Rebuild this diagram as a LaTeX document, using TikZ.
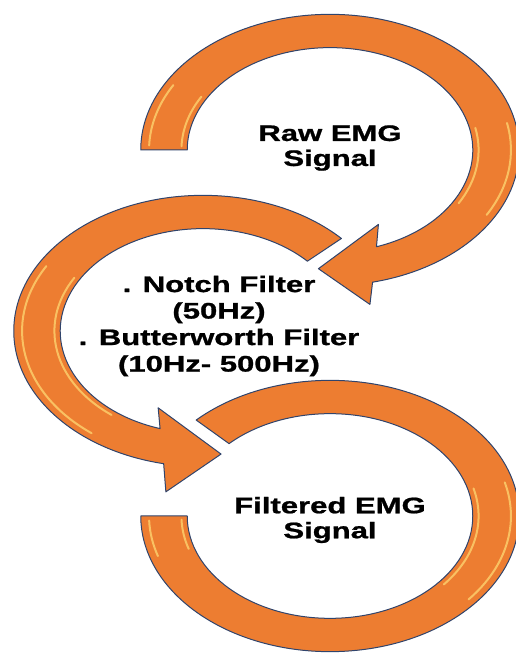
\documentclass[tikz,border=0pt]{standalone}
\usepackage{fontspec}
\setmainfont{Liberation Sans}
\newfontfamily\lblfont{Liberation Sans Bold}[FakeBold=0.9]
\definecolor{ringfill}{RGB}{237,125,49}
\definecolor{ringline}{RGB}{48,68,108}
\definecolor{glintcol}{RGB}{255,222,120}

\begin{document}
\begin{tikzpicture}[x=1pt, y=1pt,
  ring/.style={fill=ringfill, draw=ringline, line width=1pt, line join=round},
  glint/.style={draw=glintcol, line width=2pt, line cap=round, opacity=0.7},
  lbl/.style={black, font=\lblfont\fontsize{22.5}{25}\selectfont, align=center, inner sep=0pt, xscale=1.38}]
\useasboundingbox (0,0) rectangle (516,653);
% top ring
\begin{scope}[shift={(330,503)}, xscale=166, yscale=119]
\draw[ring] (180:0.86) -- (180:1.14) arc[start angle=180, end angle=-77, radius=1.14]
  -- (-79.5:1.32) -- (-94:1.0) -- (-65:0.69) -- (-71:0.86)
  arc[start angle=-71, end angle=180, radius=0.86] -- cycle;
\draw[glint] (150:1.09) arc[start angle=150, end angle=178, radius=1.09];
\draw[glint] (150:0.895) arc[start angle=150, end angle=178, radius=0.895];
\draw[glint] (12:1.09) arc[start angle=12, end angle=-30, radius=1.09];
\draw[glint] (12:0.895) arc[start angle=12, end angle=-30, radius=0.895];
\end{scope}
% middle ring
\begin{scope}[shift={(203,322)}, xscale=166, yscale=119]
\draw[ring] (43:0.86) -- (43:1.14) arc[start angle=43, end angle=258, radius=1.14]
  -- (260.6:1.37) -- (276:1.04) -- (247.3:0.70) -- (252.5:0.86)
  arc[start angle=252.5, end angle=43, radius=0.86] -- cycle;
\draw[glint] (150:1.09) arc[start angle=150, end angle=232, radius=1.09];
\draw[glint] (150:0.895) arc[start angle=150, end angle=232, radius=0.895];
\end{scope}
% bottom ring
\begin{scope}[shift={(330,137)}, xscale=166, yscale=119]
\draw[ring] (135:0.86) -- (135:1.14) arc[start angle=135, end angle=-180, radius=1.14]
  -- (180:0.86) arc[start angle=-180, end angle=135, radius=0.86] -- cycle;
\draw[glint] (15:1.09) arc[start angle=15, end angle=-40, radius=1.09];
\draw[glint] (15:0.895) arc[start angle=15, end angle=-40, radius=0.895];
\draw[glint] (182:1.09) arc[start angle=182, end angle=198, radius=1.09];
\draw[glint] (182:0.895) arc[start angle=182, end angle=198, radius=0.895];
\end{scope}
\node[lbl] (raw) at (330,505) {Raw EMG\\Signal};
\node[lbl, font=\lblfont\fontsize{22.5}{26.5}\selectfont] (filt) at (219,327)
  {. Notch Filter\\(50Hz)\\. Butterworth Filter\\(10Hz- 500Hz)};
\node[lbl] (out) at (330,133) {Filtered EMG\\Signal};
\end{tikzpicture}
\end{document}
